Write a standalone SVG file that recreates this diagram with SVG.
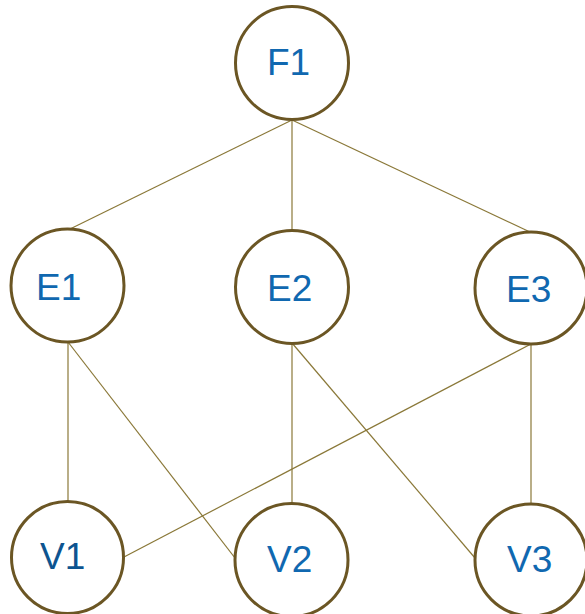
<svg xmlns="http://www.w3.org/2000/svg" width="585" height="614" viewBox="0 0 585 614">
  <style>
    .node circle { fill: #ffffff; stroke: #6b5624; stroke-width: 3; }
    .node text { font-family: "Liberation Sans", Arial, sans-serif; font-size: 37px; fill: #1068b0; }
    .node text.dark { fill: #0d5490; }
    .edges line { stroke: #8a7838; stroke-width: 1.2; }
  </style>
  <rect width="585" height="614" fill="#ffffff"/>
  <g id="edges" class="edges">
    <line x1="292" y1="120" x2="70" y2="229"/>
    <line x1="292" y1="120" x2="292" y2="230"/>
    <line x1="292" y1="120" x2="530" y2="232"/>
    <line x1="68" y1="342" x2="68" y2="502"/>
    <line x1="68" y1="342" x2="235" y2="558"/>
    <line x1="292" y1="343" x2="292" y2="504"/>
    <line x1="292" y1="343" x2="475" y2="558"/>
    <line x1="531" y1="344" x2="124" y2="557"/>
    <line x1="531" y1="344" x2="531" y2="504"/>
  </g>
  <g id="F1" class="node">
    <circle cx="292" cy="63" r="56.5"/>
    <text x="267" y="75">F1</text>
  </g>
  <g id="E1" class="node">
    <circle cx="67.5" cy="285.5" r="56.5"/>
    <text x="36" y="300">E1</text>
  </g>
  <g id="E2" class="node">
    <circle cx="292" cy="287" r="56.5"/>
    <text x="267" y="301">E2</text>
  </g>
  <g id="E3" class="node">
    <circle cx="531" cy="288" r="56"/>
    <text x="506" y="302">E3</text>
  </g>
  <g id="V1" class="node">
    <circle cx="67.5" cy="557.5" r="56"/>
    <text class="dark" x="40" y="569">V1</text>
  </g>
  <g id="V2" class="node">
    <circle cx="291.5" cy="560" r="56.5"/>
    <text x="267" y="572">V2</text>
  </g>
  <g id="V3" class="node">
    <circle cx="531" cy="560" r="56"/>
    <text x="507" y="572">V3</text>
  </g>
</svg>
